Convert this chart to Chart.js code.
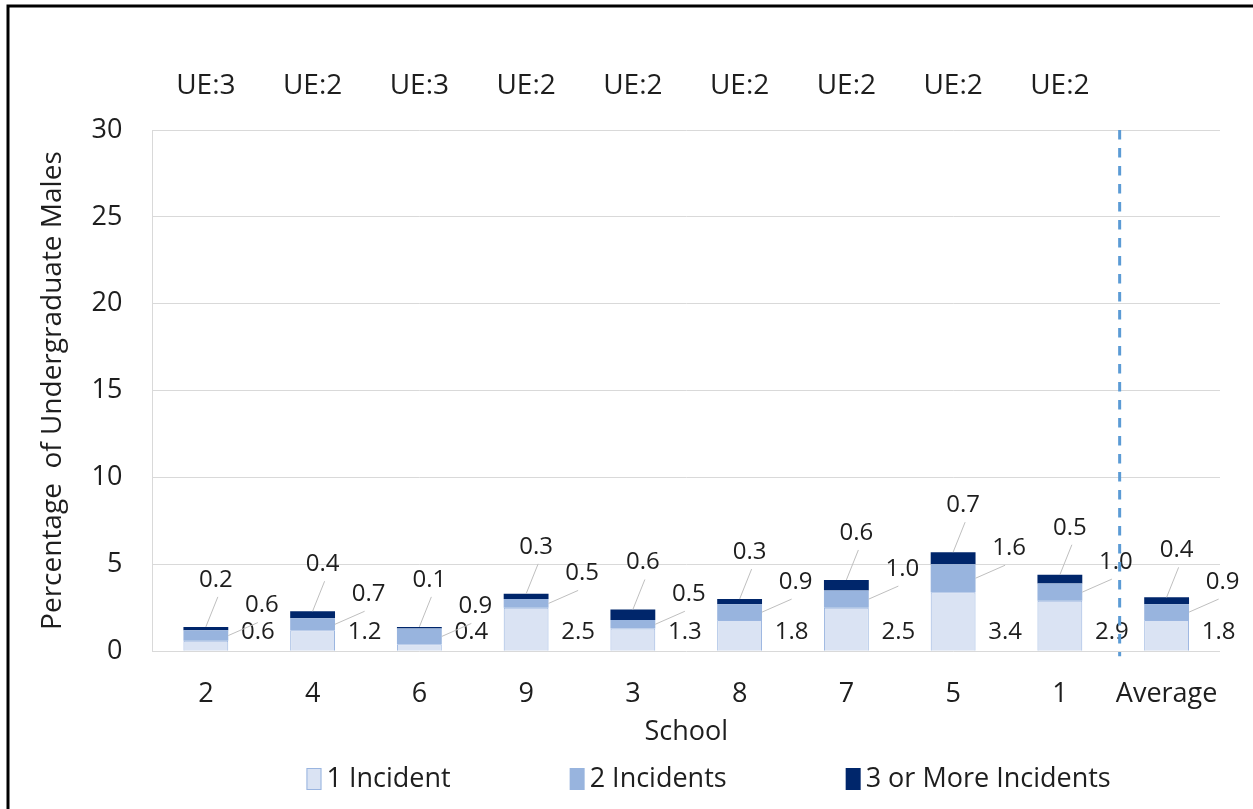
<!DOCTYPE html>
<html>
<head>
<meta charset="utf-8">
<script src="https://cdn.jsdelivr.net/npm/chart.js@4.4.1/dist/chart.umd.min.js"></script>
<style>
  html, body { margin: 0; padding: 0; background: #fff; }
  #wrap { width: 1253px; height: 809px; }
</style>
</head>
<body>
<div id="wrap"><canvas id="myChart"></canvas></div>
<script>
const schools = ["2", "4", "6", "9", "3", "8", "7", "5", "1", "Average"];
const oneIncident = [0.6, 1.2, 0.4, 2.5, 1.3, 1.8, 2.5, 3.4, 2.9, 1.8];
const twoIncidents = [0.6, 0.7, 0.9, 0.5, 0.5, 0.9, 1.0, 1.6, 1.0, 0.9];
const threePlus = [0.2, 0.4, 0.1, 0.3, 0.6, 0.3, 0.6, 0.7, 0.5, 0.4];
const ueLabels = ["UE:3", "UE:2", "UE:3", "UE:2", "UE:2", "UE:2", "UE:2", "UE:2", "UE:2", ""];

const FONT = "'Open Sans', sans-serif";
const TEXT = "#1e1e1e";

// white background + frame
const framePlugin = {
  id: "frame",
  beforeDraw(chart) {
    const ctx = chart.ctx;
    ctx.save();
    ctx.fillStyle = "#fff";
    ctx.fillRect(0, 0, chart.width, chart.height);
    ctx.strokeStyle = "#000";
    ctx.lineWidth = 3;
    ctx.strokeRect(8, 6, chart.width + 20, chart.height + 20);
    ctx.restore();
  },
};

// data labels with leader lines, Excel style
const labelPlugin = {
  id: "barLabels",
  afterDatasetsDraw(chart) {
    const ctx = chart.ctx;
    const y0 = chart.scales.y.getPixelForValue(0);
    ctx.save();
    ctx.font = "24px " + FONT;
    ctx.textAlign = "center";
    ctx.textBaseline = "middle";
    ctx.strokeStyle = "#bfbfbf";
    ctx.lineWidth = 1;
    chart.data.datasets.forEach((ds, i) => {
      chart.getDatasetMeta(i).data.forEach((bar, j) => {
        const txt = ds.data[j].toFixed(1);
        let tx, ty;
        if (i === 0) {
          tx = bar.x + 52;
          ty = y0 - 19;
        } else if (i === 1) {
          const mid = (bar.y + bar.base) / 2;
          tx = bar.x + 56;
          ty = mid - 30;
          ctx.beginPath();
          ctx.moveTo(bar.x + bar.width / 2, mid);
          ctx.lineTo(tx - 4, ty + 17);
          ctx.stroke();
        } else {
          tx = bar.x + 10;
          ty = bar.y - 47;
          ctx.beginPath();
          ctx.moveTo(bar.x, bar.y);
          ctx.lineTo(tx + 2, ty + 17);
          ctx.stroke();
        }
        ctx.fillStyle = TEXT;
        ctx.fillText(txt, tx, ty);
      });
    });
    ctx.restore();
  },
};

// UE labels, dashed separator, legend
const extrasPlugin = {
  id: "extras",
  afterDraw(chart) {
    const ctx = chart.ctx;
    const xs = chart.scales.x;
    const area = chart.chartArea;
    ctx.save();

    ctx.font = "28px " + FONT;
    ctx.fillStyle = TEXT;
    ctx.textAlign = "center";
    ctx.textBaseline = "middle";
    ueLabels.forEach((t, i) => {
      if (t) ctx.fillText(t, xs.getPixelForValue(i), area.top - 44);
    });

    const a = xs.getPixelForValue(schools.length - 2);
    const b = xs.getPixelForValue(schools.length - 1);
    const sx = a + (b - a) * 0.56;
    ctx.strokeStyle = "#5b9bd5";
    ctx.lineWidth = 3;
    ctx.setLineDash([9.5, 8.5]);
    ctx.beginPath();
    ctx.moveTo(sx, area.top);
    ctx.lineTo(sx, area.bottom + 5);
    ctx.stroke();
    ctx.setLineDash([]);

    ctx.font = "27px " + FONT;
    ctx.textAlign = "left";
    let x = area.left + 154;
    const y = chart.height - 30;
    chart.data.datasets.forEach((ds) => {
      ctx.fillStyle = ds.backgroundColor;
      ctx.fillRect(x, y - 11, 15, 22);
      if (ds.borderWidth) {
        ctx.strokeStyle = ds.borderColor;
        ctx.lineWidth = 1;
        ctx.strokeRect(x + 0.5, y - 10.5, 14, 21);
      }
      ctx.fillStyle = TEXT;
      ctx.fillText(ds.label, x + 20, y);
      x += 20 + ctx.measureText(ds.label).width + 119;
    });
    ctx.restore();
  },
};

const ctx = document.getElementById("myChart").getContext("2d");
const myChart = new Chart(ctx, {
  type: "bar",
  data: {
    labels: schools,
    datasets: [
      {
        label: "1 Incident",
        data: oneIncident,
        backgroundColor: "#dae3f3",
        borderColor: "#9ab5e0",
        borderWidth: 1,
      },
      {
        label: "2 Incidents",
        data: twoIncidents,
        backgroundColor: "#98b4de",
        borderWidth: 0,
      },
      {
        label: "3 or More Incidents",
        data: threePlus,
        backgroundColor: "#00266b",
        borderWidth: 0,
      },
    ],
  },
  options: {
    responsive: true,
    maintainAspectRatio: false,
    animation: false,
    categoryPercentage: 1,
    barPercentage: 0.42,
    layout: { padding: { left: 36, right: 33, top: 130, bottom: 60 } },
    plugins: {
      legend: { display: false },
      tooltip: { enabled: false },
    },
    scales: {
      x: {
        stacked: true,
        grid: { display: false, drawTicks: false },
        border: { display: false },
        ticks: {
          font: { family: FONT, size: 27 },
          color: TEXT,
          padding: 27,
          maxRotation: 0,
          minRotation: 0,
          autoSkip: false,
        },
        title: {
          display: true,
          text: "School",
          font: { family: FONT, size: 27 },
          color: TEXT,
          padding: { top: -21, bottom: 0 },
        },
      },
      y: {
        stacked: true,
        min: 0,
        max: 30,
        ticks: { stepSize: 5, font: { family: FONT, size: 27 }, color: TEXT, padding: 30 },
        grid: { color: "#d9d9d9", drawTicks: false },
        border: { display: true, color: "#d9d9d9" },
        title: {
          display: true,
          text: "Percentage  of Undergraduate Males",
          font: { family: FONT, size: 28 },
          color: TEXT,
          padding: { top: 0, bottom: -8 },
        },
      },
    },
  },
  plugins: [framePlugin, labelPlugin, extrasPlugin],
});
</script>
</body>
</html>
